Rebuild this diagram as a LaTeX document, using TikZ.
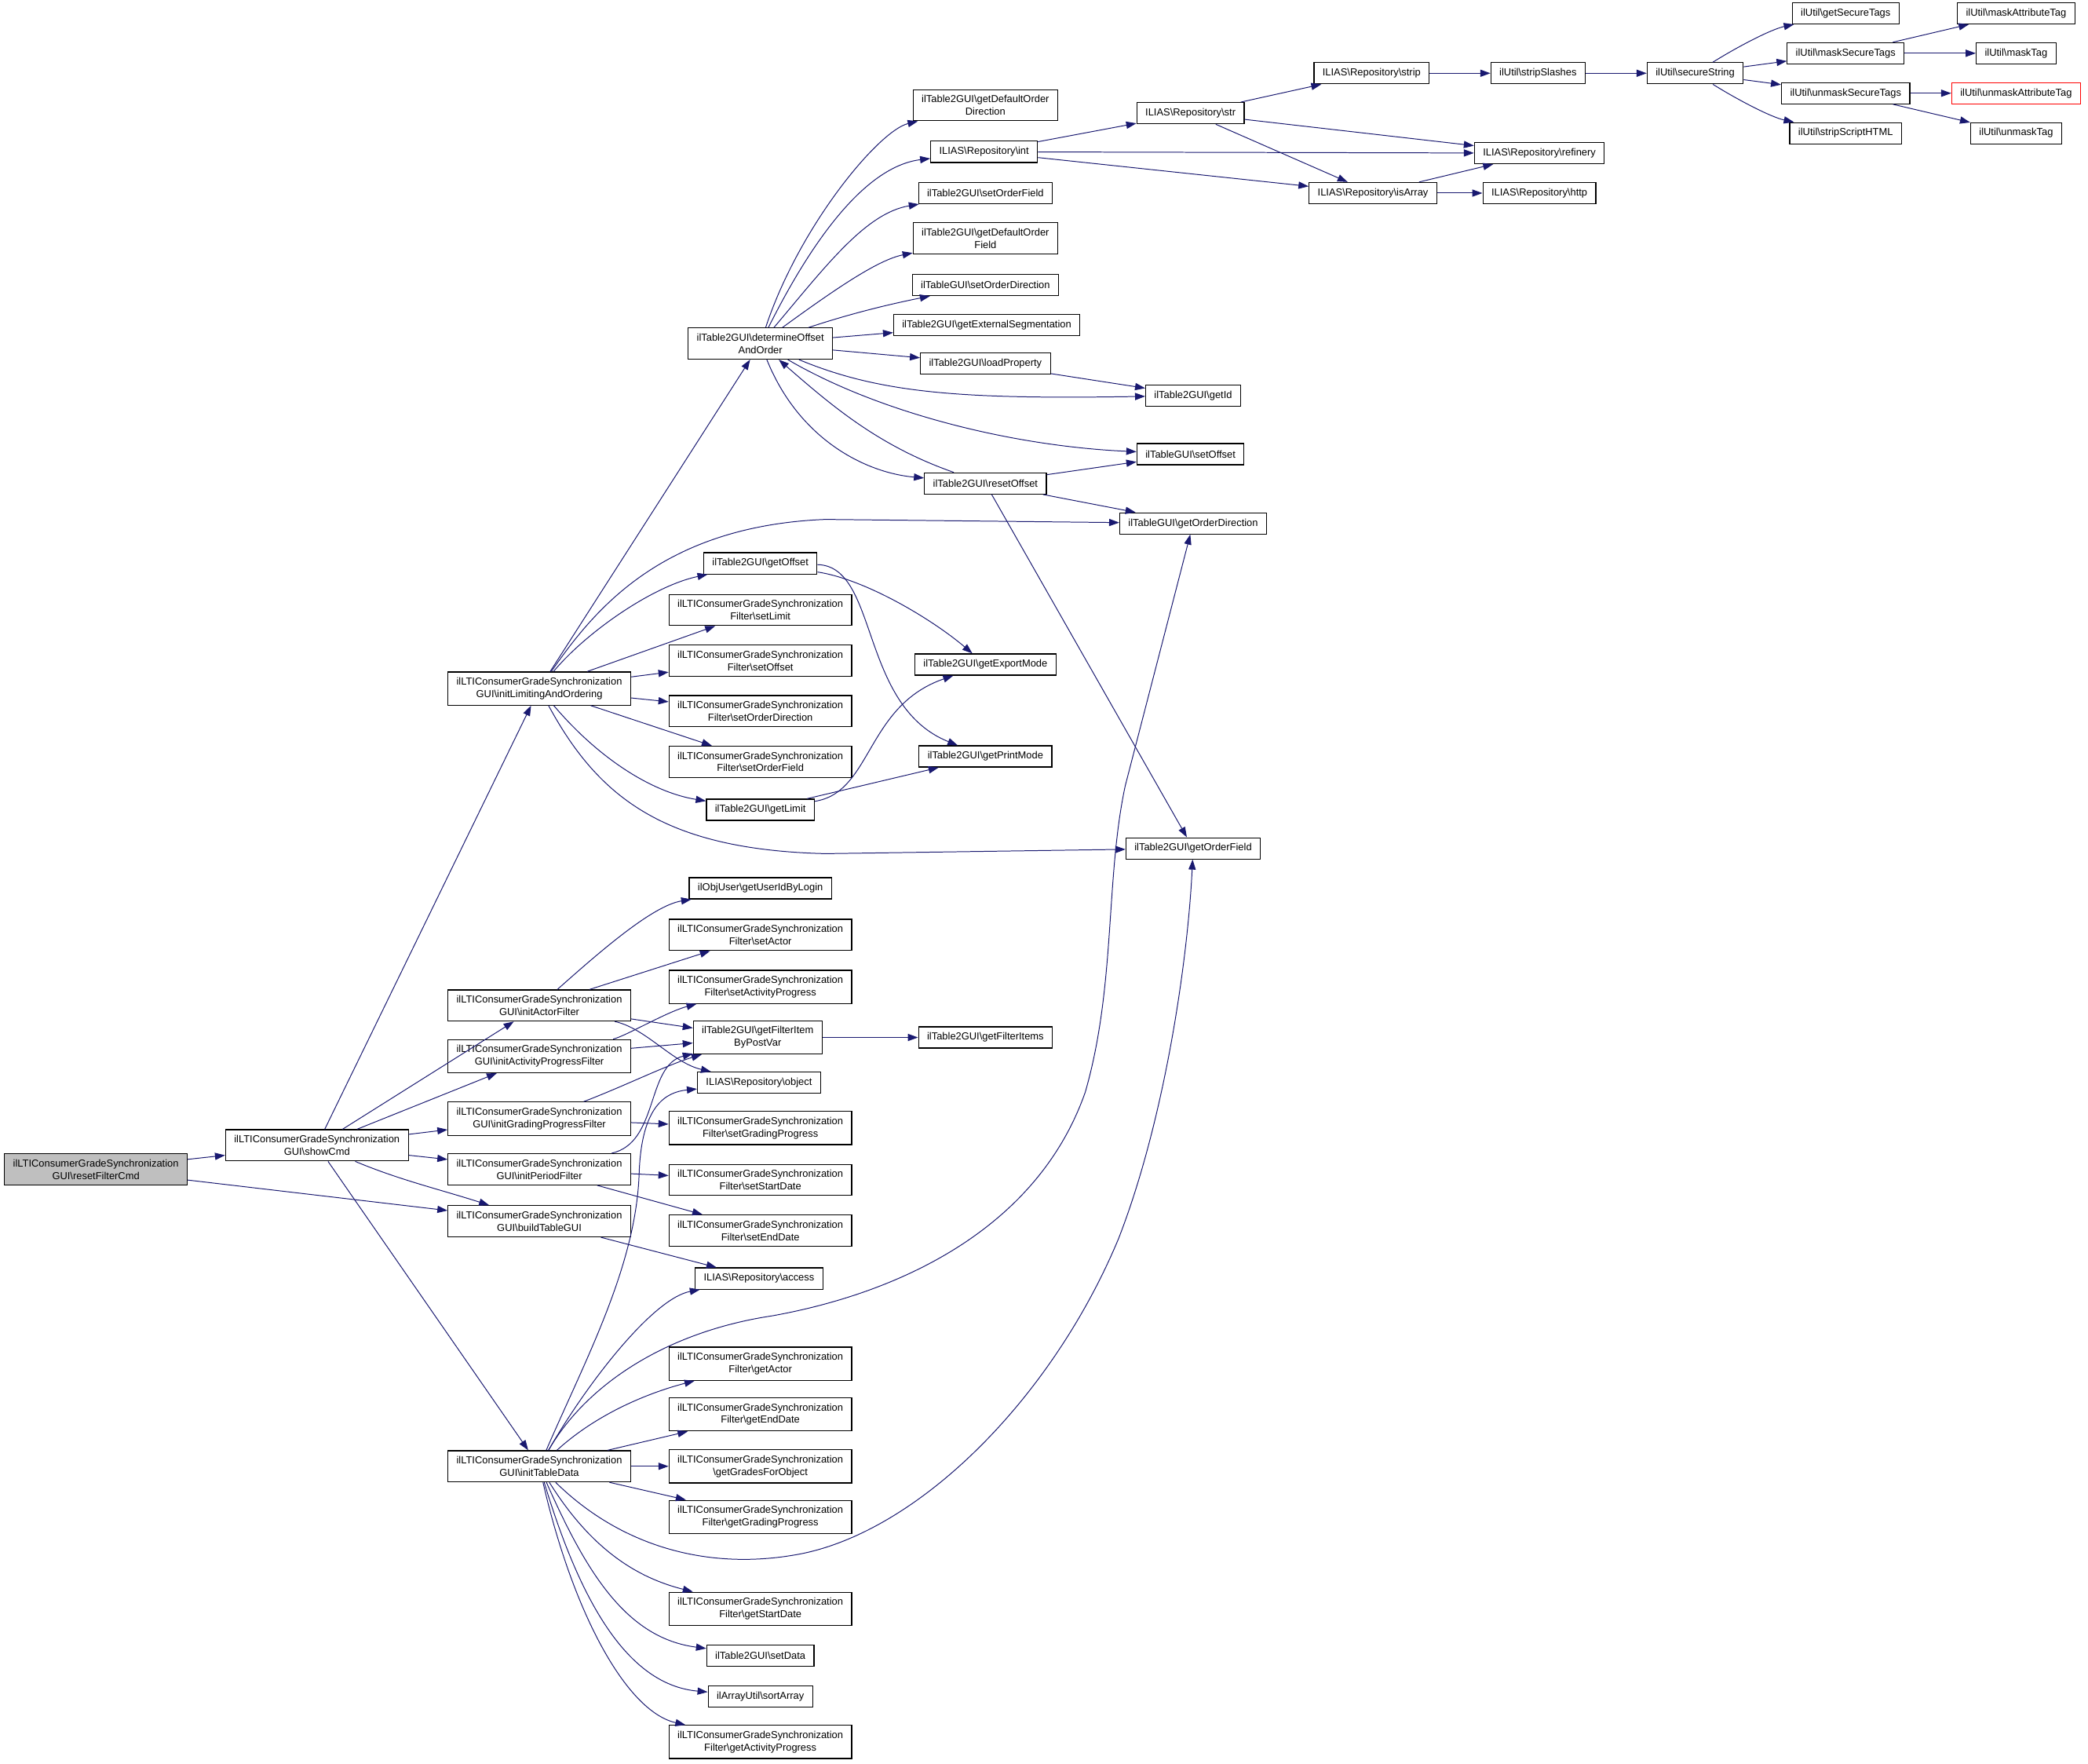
\documentclass[tikz,border=0pt]{standalone}
\usepackage{fontspec}
\setmainfont{Liberation Sans}
\usetikzlibrary{arrows.meta}
\definecolor{CGEdge}{HTML}{191970}
\definecolor{CGRoot}{HTML}{BFBFBF}
\newcommand{\bsl}{\textbackslash}
\begin{document}
\begin{tikzpicture}[x=0.03cm,y=-0.03cm,
  fn/.style={draw=black,line width=0.6pt,fill=white,align=center,inner xsep=5.5pt,inner ysep=3.6pt,minimum height=13.6pt,font=\fontsize{6.5}{8}\selectfont},
  call/.style={draw=CGEdge,line width=0.5pt,-{Triangle[length=6.5pt,width=4.6pt]}}]
\path[use as bounding box] (0,0) rectangle (1568,1324);
\node[fn,fill=CGRoot] (rf) at (72,878) {ilLTIConsumerGradeSynchronization\\GUI\bsl resetFilterCmd};
\node[fn] (show) at (238,860) {ilLTIConsumerGradeSynchronization\\GUI\bsl showCmd};
\node[fn] (initLim) at (405,517) {ilLTIConsumerGradeSynchronization\\GUI\bsl initLimitingAndOrdering};
\node[fn] (initActor) at (405,755) {ilLTIConsumerGradeSynchronization\\GUI\bsl initActorFilter};
\node[fn] (initAct) at (405,793) {ilLTIConsumerGradeSynchronization\\GUI\bsl initActivityProgressFilter};
\node[fn] (initGrad) at (405,840) {ilLTIConsumerGradeSynchronization\\GUI\bsl initGradingProgressFilter};
\node[fn] (initPer) at (405,878) {ilLTIConsumerGradeSynchronization\\GUI\bsl initPeriodFilter};
\node[fn] (build) at (405,917) {ilLTIConsumerGradeSynchronization\\GUI\bsl buildTableGUI};
\node[fn] (initTab) at (405,1101) {ilLTIConsumerGradeSynchronization\\GUI\bsl initTableData};
\node[fn] (detOff) at (571,258) {ilTable2GUI\bsl determineOffset\\AndOrder};
\node[fn] (getOff) at (571,423) {ilTable2GUI\bsl getOffset};
\node[fn] (fSetLim) at (571,458) {ilLTIConsumerGradeSynchronization\\Filter\bsl setLimit};
\node[fn] (fSetOff) at (571,496) {ilLTIConsumerGradeSynchronization\\Filter\bsl setOffset};
\node[fn] (fSetDir) at (571,534) {ilLTIConsumerGradeSynchronization\\Filter\bsl setOrderDirection};
\node[fn] (fSetFld) at (571,572) {ilLTIConsumerGradeSynchronization\\Filter\bsl setOrderField};
\node[fn] (getLim) at (571,608) {ilTable2GUI\bsl getLimit};
\node[fn] (getUid) at (571,667) {ilObjUser\bsl getUserIdByLogin};
\node[fn] (fSetAct) at (571,702) {ilLTIConsumerGradeSynchronization\\Filter\bsl setActor};
\node[fn] (fSetActP) at (571,741) {ilLTIConsumerGradeSynchronization\\Filter\bsl setActivityProgress};
\node[fn] (getFItem) at (569,779) {ilTable2GUI\bsl getFilterItem\\ByPostVar};
\node[fn] (repObj) at (570,813) {ILIAS\bsl Repository\bsl object};
\node[fn] (fSetGrad) at (571,847) {ilLTIConsumerGradeSynchronization\\Filter\bsl setGradingProgress};
\node[fn] (fSetStart) at (571,886) {ilLTIConsumerGradeSynchronization\\Filter\bsl setStartDate};
\node[fn] (fSetEnd) at (571,924) {ilLTIConsumerGradeSynchronization\\Filter\bsl setEndDate};
\node[fn] (repAcc) at (570,960) {ILIAS\bsl Repository\bsl access};
\node[fn] (fGetAct) at (571,1024) {ilLTIConsumerGradeSynchronization\\Filter\bsl getActor};
\node[fn] (fGetEnd) at (571,1062) {ilLTIConsumerGradeSynchronization\\Filter\bsl getEndDate};
\node[fn] (fGetGrades) at (571,1101) {ilLTIConsumerGradeSynchronization\\\bsl getGradesForObject};
\node[fn] (fGetGrad) at (571,1139) {ilLTIConsumerGradeSynchronization\\Filter\bsl getGradingProgress};
\node[fn] (fGetStart) at (571,1208) {ilLTIConsumerGradeSynchronization\\Filter\bsl getStartDate};
\node[fn] (setData) at (571,1243) {ilTable2GUI\bsl setData};
\node[fn] (sortArr) at (571,1274) {ilArrayUtil\bsl sortArray};
\node[fn] (fGetActP) at (571,1308) {ilLTIConsumerGradeSynchronization\\Filter\bsl getActivityProgress};
\node[fn] (defDir) at (740,79) {ilTable2GUI\bsl getDefaultOrder\\Direction};
\node[fn] (repInt) at (739,114) {ILIAS\bsl Repository\bsl int};
\node[fn] (setFld) at (740,145) {ilTable2GUI\bsl setOrderField};
\node[fn] (defFld) at (740,179) {ilTable2GUI\bsl getDefaultOrder\\Field};
\node[fn] (tSetDir) at (740,214) {ilTableGUI\bsl setOrderDirection};
\node[fn] (extSeg) at (741,244) {ilTable2GUI\bsl getExternalSegmentation};
\node[fn] (loadProp) at (740,273) {ilTable2GUI\bsl loadProperty};
\node[fn] (resetOff) at (740,363) {ilTable2GUI\bsl resetOffset};
\node[fn] (expMode) at (740,499) {ilTable2GUI\bsl getExportMode};
\node[fn] (prnMode) at (740,568) {ilTable2GUI\bsl getPrintMode};
\node[fn] (fItems) at (740,779) {ilTable2GUI\bsl getFilterItems};
\node[fn] (repStr) at (894,85) {ILIAS\bsl Repository\bsl str};
\node[fn] (getId) at (896,297) {ilTable2GUI\bsl getId};
\node[fn] (tSetOff) at (894,341) {ilTableGUI\bsl setOffset};
\node[fn] (ordDir) at (896,393) {ilTableGUI\bsl getOrderDirection};
\node[fn] (ordFld) at (896,637) {ilTable2GUI\bsl getOrderField};
\node[fn] (repStrip) at (1030,55) {ILIAS\bsl Repository\bsl strip};
\node[fn] (repIsArr) at (1031,145) {ILIAS\bsl Repository\bsl isArray};
\node[fn] (stripSl) at (1155,55) {ilUtil\bsl stripSlashes};
\node[fn] (repRef) at (1156,115) {ILIAS\bsl Repository\bsl refinery};
\node[fn] (repHttp) at (1156,145) {ILIAS\bsl Repository\bsl http};
\node[fn] (secStr) at (1273,55) {ilUtil\bsl secureString};
\node[fn] (getSec) at (1386,10) {ilUtil\bsl getSecureTags};
\node[fn] (maskSec) at (1386,40) {ilUtil\bsl maskSecureTags};
\node[fn] (unmaskSec) at (1386,70) {ilUtil\bsl unmaskSecureTags};
\node[fn] (stripHtml) at (1386,100) {ilUtil\bsl stripScriptHTML};
\node[fn] (maskAttr) at (1514,10) {ilUtil\bsl maskAttributeTag};
\node[fn] (maskTag) at (1514,40) {ilUtil\bsl maskTag};
\node[fn,draw=red] (unmaskAttr) at (1514,70) {ilUtil\bsl unmaskAttributeTag};
\node[fn] (unmaskTag) at (1514,100) {ilUtil\bsl unmaskTag};
\draw[call] (rf) -- (show);
\draw[call] (rf) -- (build);
\draw[call] (show) -- (initLim);
\draw[call] (show) -- (initActor);
\draw[call] (show) -- (initAct);
\draw[call] (show) -- (initGrad);
\draw[call] (show) -- (initPer);
\draw[call] (show) .. controls (300,886) and (330,893) .. (build);
\draw[call] (show) -- (initTab);
\draw[call] (initLim) -- (detOff);
\draw[call] (initLim) .. controls (445,460) and (495,395) .. (620,390) -- (ordDir);
\draw[call] (initLim) .. controls (440,475) and (490,440) .. (getOff);
\draw[call] (initLim) -- (fSetLim);
\draw[call] (initLim) -- (fSetOff);
\draw[call] (initLim) -- (fSetDir);
\draw[call] (initLim) -- (fSetFld);
\draw[call] (initLim) .. controls (450,570) and (490,595) .. (getLim);
\draw[call] (initLim) .. controls (450,600) and (500,638) .. (620,641) -- (ordFld);
\draw[call] (initActor) .. controls (450,715) and (490,680) .. (getUid);
\draw[call] (initActor) -- (fSetAct);
\draw[call] (initActor) -- (getFItem);
\draw[call] (initActor) .. controls (485,772) and (505,798) .. (repObj);
\draw[call] (initAct) .. controls (470,778) and (500,760) .. (fSetActP);
\draw[call] (initAct) -- (getFItem);
\draw[call] (initGrad) .. controls (470,815) and (500,800) .. (getFItem);
\draw[call] (initGrad) -- (fSetGrad);
\draw[call] (initPer) .. controls (495,858) and (485,800) .. (getFItem);
\draw[call] (initPer) -- (fSetStart);
\draw[call] (initPer) -- (fSetEnd);
\draw[call] (build) -- (repAcc);
\draw[call] (initTab) .. controls (440,1020) and (478,950) .. (480,880) .. controls (482,830) and (500,820) .. (repObj);
\draw[call] (initTab) .. controls (440,1040) and (490,975) .. (repAcc);
\draw[call] (initTab) .. controls (440,1040) and (500,1000) .. (580,988) .. controls (680,970) and (780,920) .. (815,820) .. controls (838,740) and (830,660) .. (845,590) -- (ordDir);
\draw[call] (initTab) .. controls (450,1060) and (490,1045) .. (fGetAct);
\draw[call] (initTab) -- (fGetEnd);
\draw[call] (initTab) -- (fGetGrades);
\draw[call] (initTab) -- (fGetGrad);
\draw[call] (initTab) .. controls (465,1160) and (530,1180) .. (600,1167) .. controls (690,1150) and (790,1050) .. (840,930) .. controls (875,840) and (892,720) .. (ordFld);
\draw[call] (initTab) .. controls (445,1165) and (480,1185) .. (fGetStart);
\draw[call] (initTab) .. controls (440,1180) and (470,1230) .. (setData);
\draw[call] (initTab) .. controls (435,1200) and (470,1265) .. (sortArr);
\draw[call] (initTab) .. controls (430,1210) and (470,1285) .. (fGetActP);
\draw[call] (detOff) .. controls (600,170) and (660,98) .. (defDir);
\draw[call] (detOff) .. controls (610,180) and (650,125) .. (repInt);
\draw[call] (detOff) .. controls (620,200) and (650,160) .. (setFld);
\draw[call] (detOff) .. controls (630,215) and (660,195) .. (defFld);
\draw[call] (detOff) .. controls (640,235) and (670,228) .. (tSetDir);
\draw[call] (detOff) -- (extSeg);
\draw[call] (detOff) -- (loadProp);
\draw[call] (detOff) .. controls (660,295) and (720,300) .. (getId);
\draw[call] (detOff) .. controls (660,310) and (760,335) .. (tSetOff);
\draw[call] (detOff) .. controls (600,330) and (650,355) .. (resetOff);
\draw[call] (resetOff) .. controls (660,335) and (625,305) .. (detOff);
\draw[call] (loadProp) -- (getId);
\draw[call] (resetOff) -- (tSetOff);
\draw[call] (resetOff) -- (ordDir);
\draw[call] (resetOff) -- (ordFld);
\draw[call] (getOff) .. controls (650,435) and (700,465) .. (expMode);
\draw[call] (getOff) .. controls (660,425) and (645,530) .. (prnMode);
\draw[call] (getLim) .. controls (655,595) and (650,530) .. (expMode);
\draw[call] (getLim) -- (prnMode);
\draw[call] (getFItem) -- (fItems);
\draw[call] (repInt) -- (repStr);
\draw[call] (repInt) -- (repRef);
\draw[call] (repInt) -- (repIsArr);
\draw[call] (repStr) -- (repStrip);
\draw[call] (repStr) -- (repRef);
\draw[call] (repStr) -- (repIsArr);
\draw[call] (repStrip) -- (stripSl);
\draw[call] (stripSl) -- (secStr);
\draw[call] (secStr) .. controls (1305,35) and (1330,22) .. (getSec);
\draw[call] (secStr) -- (maskSec);
\draw[call] (secStr) -- (unmaskSec);
\draw[call] (secStr) .. controls (1305,75) and (1330,88) .. (stripHtml);
\draw[call] (maskSec) -- (maskAttr);
\draw[call] (maskSec) -- (maskTag);
\draw[call] (unmaskSec) -- (unmaskAttr);
\draw[call] (unmaskSec) -- (unmaskTag);
\draw[call] (repIsArr) -- (repRef);
\draw[call] (repIsArr) -- (repHttp);
\end{tikzpicture}
\end{document}
